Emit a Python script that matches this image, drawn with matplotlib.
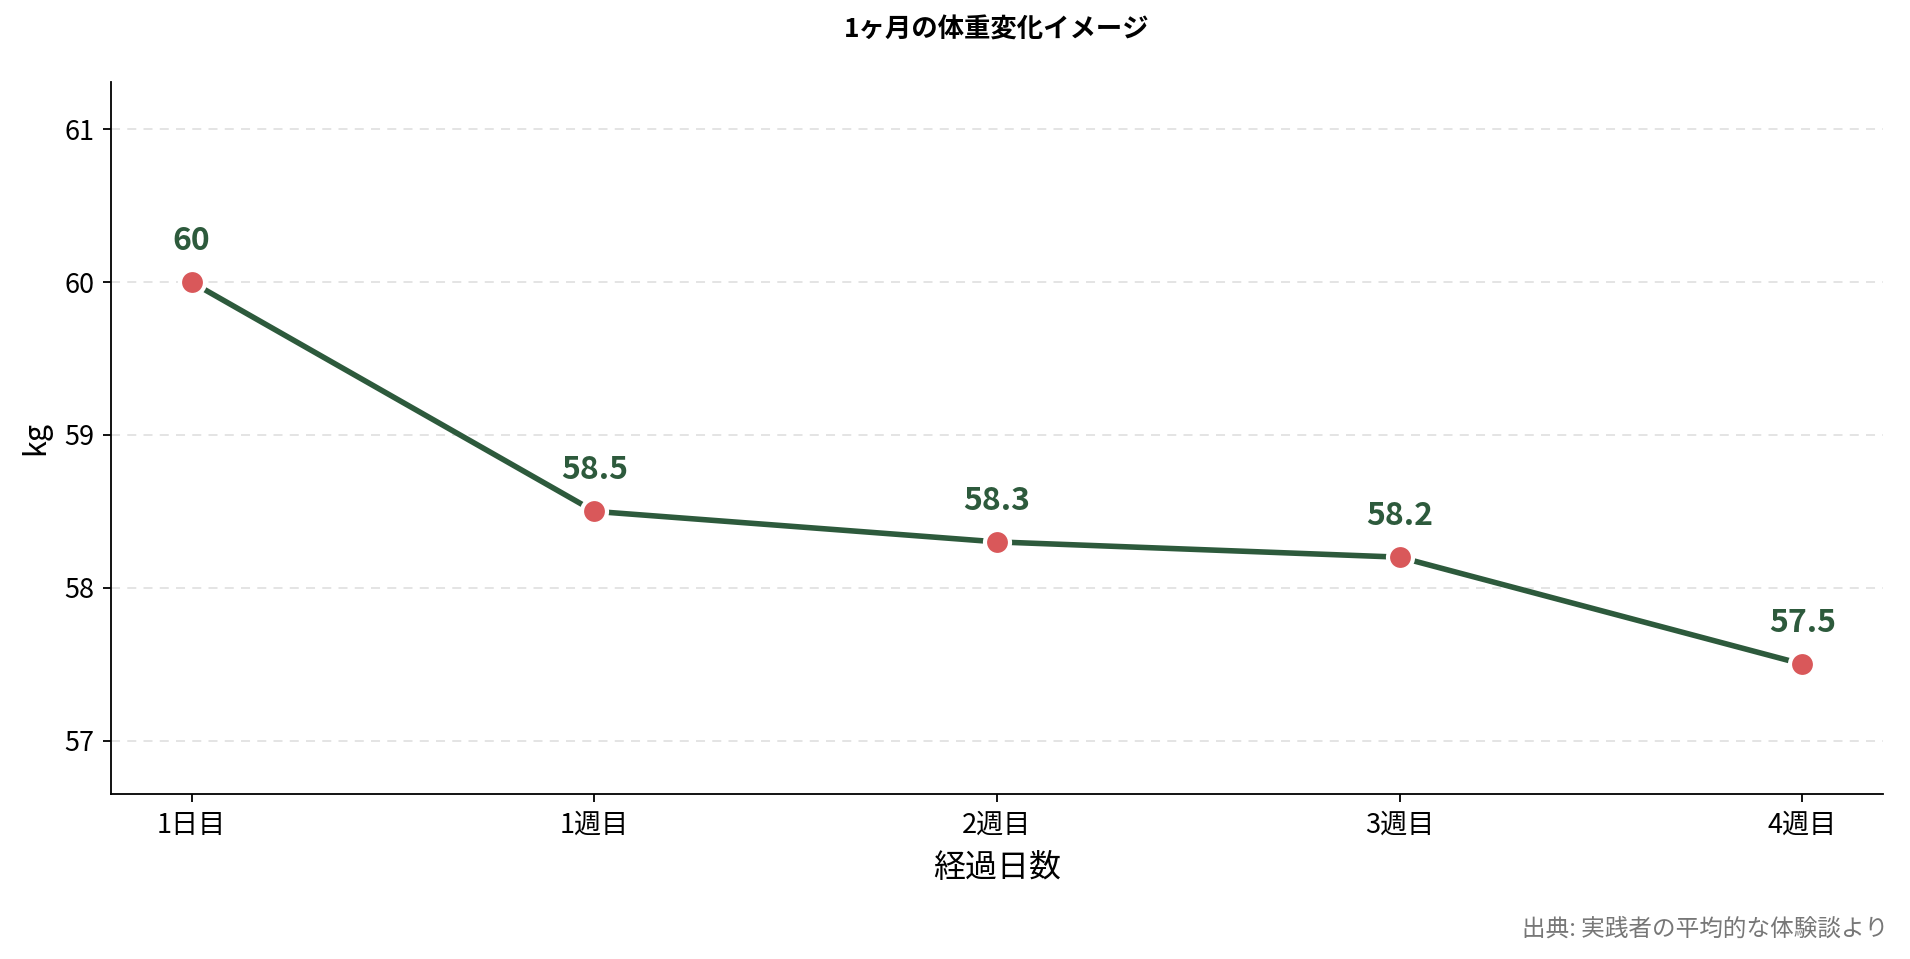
#!/usr/bin/env python3
"""Weight change over one month -- line chart with value labels."""

import matplotlib
matplotlib.use("Agg")
import matplotlib.pyplot as plt

plt.rcParams["font.family"] = ["Noto Sans CJK JP", "DejaVu Sans"]

# ---------------------------------------------------------------------------
# Data
# ---------------------------------------------------------------------------
periods = ["1日目", "1週目", "2週目", "3週目", "4週目"]
weights = [60, 58.5, 58.3, 58.2, 57.5]
value_labels = ["60", "58.5", "58.3", "58.2", "57.5"]

LINE_COLOR = "#2d5a3c"
MARKER_COLOR = "#d9585a"

fig = plt.figure(figsize=(19.10, 9.59), dpi=100)
ax = fig.add_axes([111 / 1910, 1 - 794 / 959, (1883 - 111) / 1910, (794 - 82) / 959])

x = list(range(len(periods)))
ax.plot(x, weights, color=LINE_COLOR, linewidth=4, zorder=2,
        marker="o", markersize=18, markerfacecolor=MARKER_COLOR,
        markeredgecolor="white", markeredgewidth=3)

for xi, yi, lab in zip(x, weights, value_labels):
    ax.annotate(lab, (xi, yi), xytext=(0, 18), textcoords="offset points",
                ha="center", va="bottom", fontsize=23, fontweight="bold",
                color=LINE_COLOR)

ax.set_xticks(x)
ax.set_xticklabels(periods)
ax.set_yticks([57, 58, 59, 60, 61])
ax.set_xlim(-0.2, 4.2)
ax.set_ylim(56.65, 61.31)
ax.tick_params(axis="both", labelsize=19.5, length=6, width=1.3)
ax.tick_params(axis="x", pad=7)
ax.tick_params(axis="y", pad=6)

ax.grid(axis="y", linestyle="--", color="#e2e2e2", linewidth=1.3, dashes=(5, 4))
ax.set_axisbelow(True)
for side in ("top", "right"):
    ax.spines[side].set_visible(False)
for side in ("left", "bottom"):
    ax.spines[side].set_linewidth(1.3)

ax.set_xlabel("経過日数", fontsize=23, labelpad=9)
ax.set_ylabel("kg", fontsize=22, labelpad=9)

# title centred over the axes, not the figure
ax_mid = (111 + 1883) / 2 / 1910
fig.text(ax_mid, 1 - 30 / 959, "1ヶ月の体重変化イメージ", ha="center", va="center",
         fontsize=19, fontweight="bold")
fig.text(1888 / 1910, 1 - 929 / 959, "出典: 実践者の平均的な体験談より",
         ha="right", va="center", fontsize=17, color="#777777")

fig.savefig("out.png", dpi=100)
plt.close(fig)
